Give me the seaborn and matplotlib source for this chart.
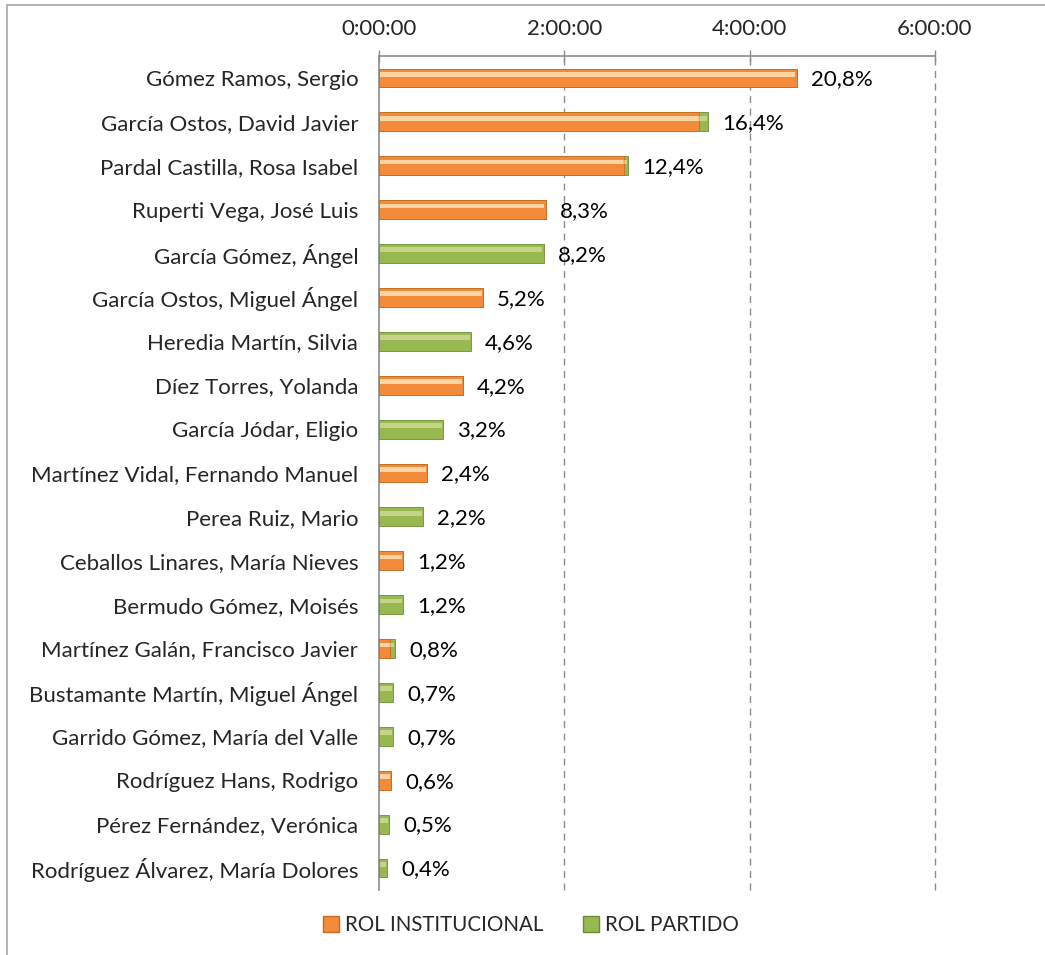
"""Horizontal stacked bars: speaking time per person, split by role."""

import matplotlib
matplotlib.use("Agg")
import matplotlib.pyplot as plt
import matplotlib.patches as mpatches
from matplotlib.ticker import FixedLocator, FuncFormatter
import seaborn as sns
import pandas as pd


# ── Data (minutes) ────────────────────────────────────────────────────────────
names = [
    "Gómez Ramos, Sergio",
    "García Ostos, David Javier",
    "Pardal Castilla, Rosa Isabel",
    "Ruperti Vega, José Luis",
    "García Gómez, Ángel",
    "García Ostos, Miguel Ángel",
    "Heredia Martín, Silvia",
    "Díez Torres, Yolanda",
    "García Jódar, Eligio",
    "Martínez Vidal, Fernando Manuel",
    "Perea Ruiz, Mario",
    "Ceballos Linares, María Nieves",
    "Bermudo Gómez, Moisés",
    "Martínez Galán, Francisco Javier",
    "Bustamante Martín, Miguel Ángel",
    "Garrido Gómez, María del Valle",
    "Rodríguez Hans, Rodrigo",
    "Pérez Fernández, Verónica",
    "Rodríguez Álvarez, María Dolores",
]
rol_institucional = [270.4, 207.5, 158.5, 107.9, 0.0, 67.6, 0.0, 54.6, 0.0,
                     31.2, 0.0, 15.6, 0.0, 7.2, 0.0, 0.0, 7.8, 0.0, 0.0]
rol_partido = [0.0, 5.7, 2.7, 0.0, 106.6, 0.0, 59.8, 0.0, 41.6,
               0.0, 28.6, 0.0, 15.6, 3.2, 9.1, 9.1, 0.0, 6.5, 5.2]
pct_labels = ["20,8%", "16,4%", "12,4%", "8,3%", "8,2%", "5,2%", "4,6%",
              "4,2%", "3,2%", "2,4%", "2,2%", "1,2%", "1,2%", "0,8%",
              "0,7%", "0,7%", "0,6%", "0,5%", "0,4%"]
x_ticks_min = [0, 120, 240, 360]

ORANGE = "#F38B3A"
GREEN = "#97B94F"
GREY = "#8C8C8C"
FS = 16

df = pd.DataFrame({
    "name": names,
    "inst": rol_institucional,
    "part": rol_partido,
})
df["total"] = df["inst"] + df["part"]


# ── Figure ────────────────────────────────────────────────────────────────────
sns.set_style("white")
plt.rcParams["font.family"] = ["Lato", "DejaVu Sans"]

fig = plt.figure(figsize=(10.45, 9.55), dpi=100)
ax = fig.add_axes([379 / 1045, 1 - 890 / 955, (935 - 379) / 1045, (890 - 56) / 955])

# outer chart border (cut at right and bottom like the original)
fig.patches.append(mpatches.Rectangle(
    (7 / 1045, -0.1), 1.2, 1 - 5 / 955 + 0.1, transform=fig.transFigure,
    fill=False, edgecolor="#A6A6A6", linewidth=1.2, zorder=0))

# stacked: total in green, institutional part on top in orange
sns.barplot(data=df, y="name", x="total", color=GREEN, orient="h",
            width=0.43, ax=ax, edgecolor="#6E8B35", linewidth=0.6,
            saturation=1, zorder=3)
sns.barplot(data=df, y="name", x="inst", color=ORANGE, orient="h",
            width=0.43, ax=ax, edgecolor="#C96A22", linewidth=0.6,
            saturation=1, zorder=4)

# soft highlight stripe to hint at the bevelled look
for bar in list(ax.patches):
    w = bar.get_width()
    if w <= 0:
        bar.set_linewidth(0)
        continue
    ax.add_patch(mpatches.Rectangle(
        (bar.get_x() + 0.4, bar.get_y() + bar.get_height() * 0.18),
        max(w - 1.2, 0), bar.get_height() * 0.25,
        facecolor="#FFF6D0", alpha=0.45, linewidth=0, zorder=5))

# percentage labels
for i, (tot, lab) in enumerate(zip(df["total"], pct_labels)):
    ax.annotate(lab, (tot, i), xytext=(10, -1), textcoords="offset points",
                va="center", ha="left", fontsize=FS, color="black", zorder=6)

# ── Axes styling ──────────────────────────────────────────────────────────────
ax.set_xlim(0, 360)
ax.set_ylim(len(names) - 0.5, -0.5)
ax.set_xlabel("")
ax.set_ylabel("")

ax.xaxis.tick_top()
ax.xaxis.set_major_locator(FixedLocator(x_ticks_min))
ax.xaxis.set_major_formatter(FuncFormatter(lambda v, _: f"{int(v // 60)}:00:00"))
ax.tick_params(axis="x", which="major", direction="inout", length=9,
               width=1, color=GREY, labelsize=FS, pad=8)

ax.yaxis.set_minor_locator(FixedLocator([i - 0.5 for i in range(len(names) + 1)]))
ax.tick_params(axis="y", which="major", length=0, labelsize=FS, pad=15)
ax.tick_params(axis="y", which="minor", direction="out", length=5,
               width=1, color=GREY)

for side in ["bottom", "right"]:
    ax.spines[side].set_visible(False)
for side in ["top", "left"]:
    ax.spines[side].set_color(GREY)
    ax.spines[side].set_linewidth(1.2)

ax.grid(False)
for xt in x_ticks_min[1:]:
    ax.axvline(xt, color=GREY, linestyle=(0, (5, 4)), linewidth=1,
               zorder=1, clip_on=False)

# ── Legend ────────────────────────────────────────────────────────────────────
handles = [
    mpatches.Patch(facecolor=ORANGE, edgecolor="#C96A22", label="ROL INSTITUCIONAL"),
    mpatches.Patch(facecolor=GREEN, edgecolor="#6E8B35", label="ROL PARTIDO"),
]
fig.legend(handles=handles, loc="center", ncol=2, frameon=False,
           bbox_to_anchor=(531 / 1045, 1 - 925 / 955), fontsize=14.8,
           handlelength=0.8, handleheight=0.8, handletextpad=0.3,
           columnspacing=1.9)

fig.savefig("out.png", dpi=100)
plt.close(fig)
